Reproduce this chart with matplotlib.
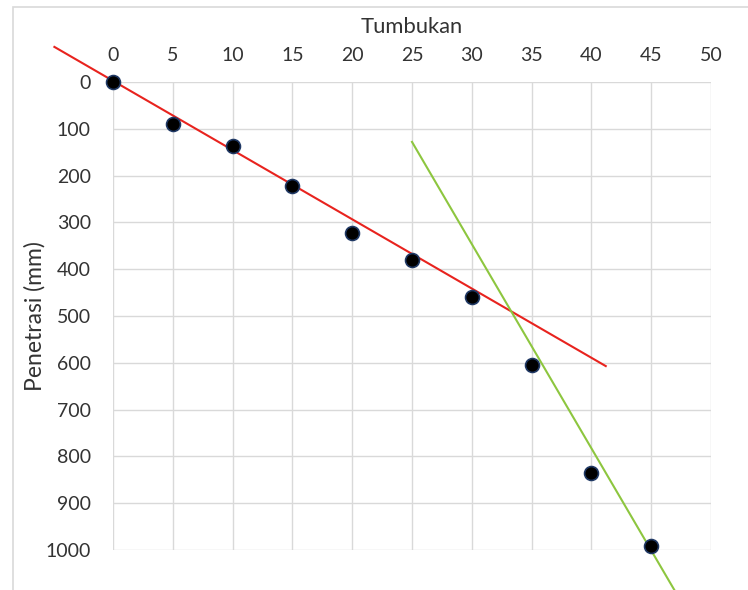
import matplotlib.pyplot as plt
from matplotlib.patches import Rectangle

tumbukan = [0, 5, 10, 15, 20, 25, 30, 35, 40, 45]
penetrasi = [0, 90, 137, 222, 323, 380, 459, 605, 835, 991]

# trend lines (end points)
red_x = [-4.9, 41.2]
red_y = [-75, 607]
green_x = [25, 47.5]
green_y = [128, 1110]

plt.rcParams['font.family'] = ['Lato', 'DejaVu Sans']

fig = plt.figure(figsize=(7.48, 5.90), dpi=100)
fig.patches.append(Rectangle((13 / 748, -0.1), 1.0, 1.0 - 7 / 590 + 0.1,
                             transform=fig.transFigure, fill=False,
                             edgecolor='#d9d9d9', linewidth=1.2))
ax = fig.add_axes([113 / 748, 1 - 550 / 590, (711 - 113) / 748, (550 - 82) / 590])

ax.set_xlim(0, 50)
ax.set_ylim(1000, 0)
ax.set_xticks(range(0, 51, 5))
ax.set_yticks(range(0, 1001, 100))
ax.xaxis.tick_top()
ax.xaxis.set_label_position('top')
ax.tick_params(length=0, labelsize=14, colors='#333333')
ax.tick_params(axis='x', pad=13)
ax.tick_params(axis='y', pad=16)
ax.grid(True, color='#d9d9d9', linewidth=1.0)
ax.set_axisbelow(True)
for s in ax.spines.values():
    s.set_visible(False)

ax.set_xlabel('Tumbukan', fontsize=15.8, color='#333333', labelpad=10)
ax.set_ylabel('Penetrasi (mm)', fontsize=16.5, color='#333333', labelpad=0)

ax.plot(red_x, red_y, color='#e8231e', linewidth=1.5, clip_on=False, zorder=3)
ax.plot(green_x, green_y, color='#8dc63f', linewidth=1.5, clip_on=False, zorder=3)
ax.plot(tumbukan, penetrasi, 'o', color='black', markeredgecolor='#1f3864',
        markersize=10, markeredgewidth=1.2, clip_on=False, zorder=4)

fig.savefig('out.png', dpi=100)
